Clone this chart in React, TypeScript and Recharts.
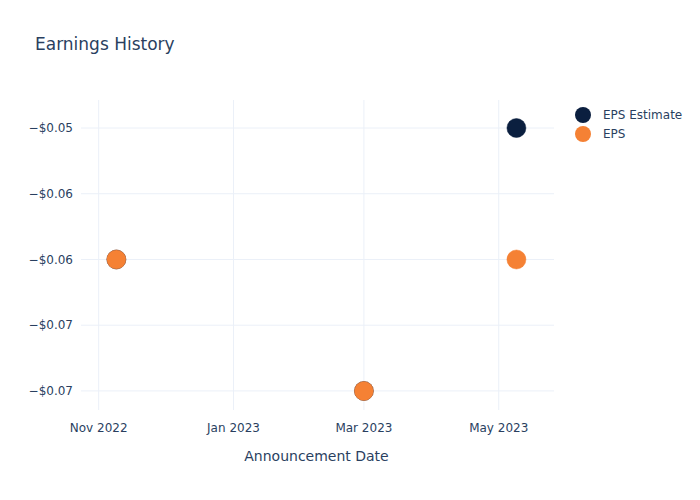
import { ScatterChart, Scatter, XAxis, YAxis, CartesianGrid } from "recharts";

const dates = ["2022-11-09", "2023-03-01", "2023-05-09"];
const epsEstimate = [-0.06, -0.07, -0.05];
const epsActual = [-0.06, -0.07, -0.06];

const xTickDates = ["2022-11-01", "2023-01-01", "2023-03-01", "2023-05-01"];
const xTickLabels = ["Nov 2022", "Jan 2023", "Mar 2023", "May 2023"];
const yTicks = [-0.05, -0.055, -0.06, -0.065, -0.07];
const yTickLabels = ["\u2212$0.05", "\u2212$0.06", "\u2212$0.06", "\u2212$0.07", "\u2212$0.07"];

const ts = (d: string) => Date.parse(d + "T00:00:00Z");

const estimateRows = dates.map((d, i) => ({ x: ts(d), y: epsEstimate[i] }));
const actualRows = dates.map((d, i) => ({ x: ts(d), y: epsActual[i] }));
const xTicks = xTickDates.map(ts);

const FONT = "'DejaVu Sans', sans-serif";
const TEXT = "#2a3f5f";
const NAVY = "#0b1f3f";
const ORANGE = "#f58134";

const dot = (fill: string) => (props: any) =>
  <circle cx={props.cx} cy={props.cy} r={9.5} fill={fill} stroke={fill} strokeWidth={0.5} />;

const legendItems = [
  { name: "EPS Estimate", color: NAVY },
  { name: "EPS", color: ORANGE },
];

function LegendBox() {
  return (
    <div style={{ position: "absolute", left: 575, top: 105, fontFamily: FONT, fontSize: 12, color: TEXT }}>
      {legendItems.map((it) => (
        <div key={it.name} style={{ display: "flex", alignItems: "center", height: 19 }}>
          <span style={{ width: 16, height: 16, borderRadius: 8, background: it.color, display: "inline-block", marginRight: 12 }} />
          {it.name}
        </div>
      ))}
    </div>
  );
}

export default function App() {
  return (
    <div style={{ position: "relative", width: 700, height: 500, background: "#fff", fontFamily: FONT }}>
      <style>{"body{margin:0}"}</style>
      <div style={{ position: "absolute", left: 35, top: 34, fontSize: 17, color: TEXT }}>Earnings History</div>
      <div style={{ position: "absolute", left: 80, width: 473, top: 448, textAlign: "center", fontSize: 14, color: TEXT }}>
        Announcement Date
      </div>
      <LegendBox />
      <ScatterChart width={700} height={500} margin={{ top: 100, right: 146, bottom: 60, left: 21 }}>
        <CartesianGrid stroke="#ebf0f8" syncWithTicks />
        <XAxis
          type="number"
          dataKey="x"
          domain={[ts("2022-10-24"), ts("2023-05-26")]}
          ticks={xTicks}
          tickFormatter={(v: number) => xTickLabels[xTicks.indexOf(v)] ?? ""}
          axisLine={false}
          tickLine={false}
          tickMargin={7}
          height={30}
          allowDataOverflow
          tick={{ fontSize: 12, fill: TEXT, fontFamily: FONT }}
        />
        <YAxis
          type="number"
          dataKey="y"
          domain={[-0.07145, -0.04787]}
          ticks={yTicks}
          tickFormatter={(v: number) => yTickLabels[yTicks.indexOf(v)] ?? ""}
          axisLine={false}
          tickLine={false}
          width={60}
          allowDataOverflow
          tick={{ fontSize: 12, fill: TEXT, fontFamily: FONT }}
        />
        <Scatter name="EPS Estimate" data={estimateRows} fill={NAVY} shape={dot(NAVY)} isAnimationActive={false} />
        <Scatter name="EPS" data={actualRows} fill={ORANGE} shape={dot(ORANGE)} isAnimationActive={false} />
      </ScatterChart>
    </div>
  );
}
